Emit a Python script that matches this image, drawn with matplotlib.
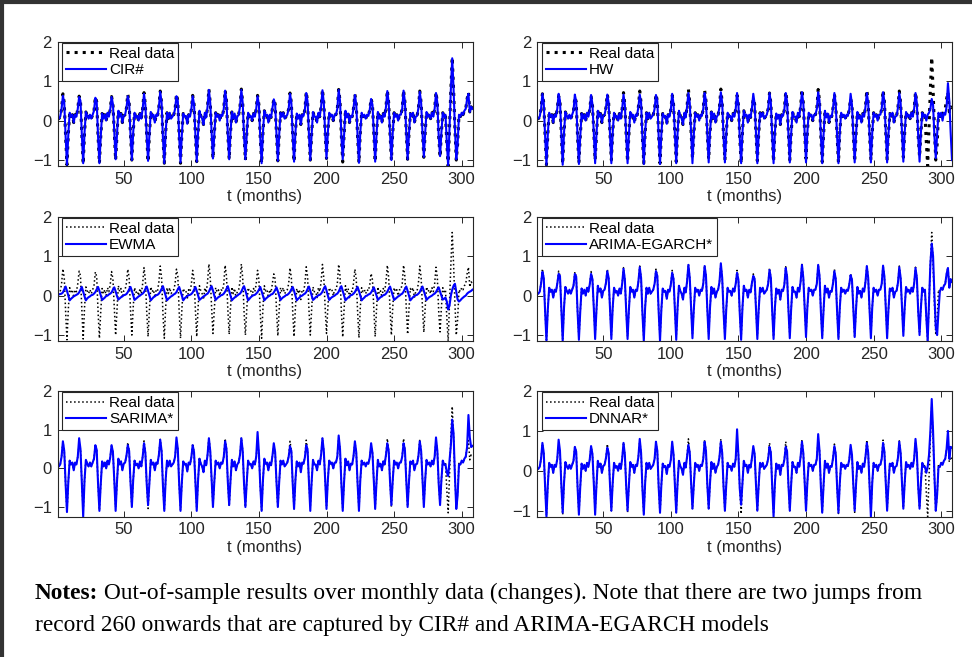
import numpy as np
import matplotlib
matplotlib.use("Agg")
import matplotlib.pyplot as plt
from matplotlib.lines import Line2D

plt.rcParams['font.family'] = ['Liberation Sans', 'DejaVu Sans']

# ---- real data (monthly changes) ----
# t = 1..4, then one row per year starting at the yearly peak (t = 5 + 12k), then t = 305..308
real_head = [0.05, 0.05, 0.10, 0.30]
real_rows = [
    [0.68, 0.45, -0.40, -1.12, -0.35, 0.20, 0.10, 0.15, -0.05, 0.15, 0.10, 0.30],
    [0.62, 0.50, -0.35, -1.10, -0.30, 0.22, 0.12, 0.05, 0.15, 0.05, 0.15, 0.25],
    [0.60, 0.48, -0.40, -1.08, -0.40, 0.18, 0.05, 0.15, 0.00, 0.20, 0.10, 0.28],
    [0.61, 0.42, -0.30, -1.00, -0.35, 0.25, 0.10, 0.18, -0.05, 0.12, 0.15, 0.32],
    [0.67, 0.45, -0.35, -1.00, -0.30, 0.20, 0.08, 0.12, 0.00, 0.18, 0.05, 0.30],
    [0.71, 0.40, -0.40, -1.04, -0.35, 0.22, 0.10, 0.15, -0.05, 0.15, 0.12, 0.35],
    [0.75, 0.45, -0.45, -1.08, -0.30, 0.20, 0.05, 0.20, 0.05, 0.10, 0.15, 0.30],
    [0.67, 0.50, -0.40, -1.08, -0.35, 0.18, 0.10, 0.12, -0.08, 0.15, 0.10, 0.28],
    [0.64, 0.42, -0.35, -1.04, -0.30, 0.25, 0.12, 0.05, -0.10, 0.20, 0.08, 0.35],
    [0.80, 0.45, -0.30, -0.96, -0.35, 0.20, 0.10, 0.15, 0.00, 0.15, 0.12, 0.30],
    [0.77, 0.50, -0.35, -0.98, -0.30, 0.22, 0.05, 0.18, -0.05, 0.10, 0.15, 0.35],
    [0.80, 0.45, -0.40, -1.00, -0.35, 0.20, 0.10, 0.12, 0.00, 0.18, 0.10, 0.30],
    [0.64, 0.40, -0.45, -1.08, -0.30, 0.25, 0.12, 0.15, -0.05, 0.15, 0.08, 0.32],
    [0.55, 0.42, -0.35, -1.02, -0.35, 0.20, 0.10, 0.20, 0.05, 0.10, 0.15, 0.30],
    [0.70, 0.45, -0.40, -1.04, -0.30, 0.18, 0.05, 0.15, -0.10, 0.15, 0.12, 0.28],
    [0.73, 0.48, -0.35, -1.00, -0.35, 0.22, 0.10, 0.10, -0.05, 0.20, 0.10, 0.35],
    [0.79, 0.45, -0.30, -0.96, -0.30, 0.20, 0.12, 0.15, 0.00, 0.15, 0.15, 0.30],
    [0.79, 0.50, -0.40, -1.05, -0.35, 0.25, 0.08, 0.18, -0.05, 0.12, 0.10, 0.32],
    [0.67, 0.42, -0.40, -1.07, -0.30, 0.20, 0.10, 0.15, 0.05, 0.15, 0.12, 0.28],
    [0.56, 0.40, -0.35, -1.04, -0.35, 0.22, 0.05, 0.12, -0.05, 0.18, 0.10, 0.35],
    [0.77, 0.45, -0.35, -1.00, -0.30, 0.20, 0.10, 0.15, 0.00, 0.15, 0.15, 0.30],
    [0.77, 0.48, -0.30, -0.98, -0.35, 0.18, 0.12, 0.20, -0.05, 0.10, 0.12, 0.32],
    [0.75, 0.45, -0.30, -0.93, -0.30, 0.22, 0.10, 0.15, 0.05, 0.20, 0.10, 0.30],
    [0.72, 0.45, -0.40, -0.92, -0.30, 0.20, 0.10, 0.15, -0.55, -1.15, -0.20, 0.80],
    [1.60, 0.80, -0.20, -1.00, -0.60, 0.15, 0.10, 0.20, 0.15, 0.25, 0.30, 0.55],
]
real_tail = [0.72, 0.22, 0.35, 0.30]

# ---- model forecasts: yearly peak / trough values ----
cir_peak = [0.63, 0.60, 0.58, 0.60, 0.62, 0.68, 0.73, 0.62, 0.62, 0.78, 0.76, 0.78, 0.62,
            0.54, 0.68, 0.70, 0.77, 0.78, 0.65, 0.55, 0.75, 0.76, 0.73, 0.70, 1.58, 0.68]
cir_trough = [-1.12, -1.08, -1.08, -0.98, -1.00, -1.02, -1.08, -1.06, -1.04, -0.96, -0.98, -0.98,
              -1.08, -1.02, -1.04, -1.00, -0.96, -0.98, -1.07, -1.04, -1.00, -0.98, -0.92, -0.90]
cir_end = {290: -1.15, 293: 1.58, 296: -0.98}

hw_peak = [0.68, 0.68, 0.66, 0.65, 0.66, 0.66, 0.66, 0.65, 0.68, 0.70, 0.70, 0.72, 0.70,
           0.68, 0.70, 0.70, 0.72, 0.72, 0.70, 0.68, 0.70, 0.72, 0.70, 0.70, 0.55, 0.95]
hw_trough = [-1.12, -1.12, -1.10, -1.08, -1.08, -1.08, -1.10, -1.10, -1.08, -1.08, -1.06, -1.06,
             -1.08, -1.08, -1.08, -1.06, -1.06, -1.08, -1.08, -1.06, -1.06, -1.06, -1.04, -1.04]
hw_end = {289: 0.00, 290: 0.15, 291: 0.20, 292: 0.30, 293: 0.55, 294: 0.40, 295: -0.40,
          296: -0.95, 297: -0.35, 298: 0.20, 299: 0.10, 300: 0.20, 301: 0.00, 302: 0.20,
          303: 0.15, 304: 0.35, 305: 0.95, 306: 0.50, 307: -0.30, 308: -1.00}

arima_peak = [0.60, 0.55, 0.55, 0.55, 0.62, 0.68, 0.72, 0.62, 0.58, 0.78, 0.75, 0.82, 0.58,
              0.50, 0.65, 0.70, 0.78, 0.78, 0.62, 0.52, 0.75, 0.76, 0.72, 0.70, 1.32, 0.70]
arima_trough = [-1.15, -1.15, -1.12, -1.10, -1.10, -1.10, -1.15, -1.15, -1.12, -1.08, -1.10, -1.10,
                -1.12, -1.10, -1.10, -1.08, -1.05, -1.08, -1.10, -1.05, -1.08, -1.08, -1.02, -1.00]
arima_end = {293: 1.32, 294: 1.00, 295: 0.00, 296: -0.80, 297: -1.00, 298: -0.40,
             305: 0.70, 306: 0.20, 307: 0.42, 308: 0.35}

sarima_peak = [0.70, 0.78, 0.60, 0.60, 0.60, 0.65, 0.74, 0.80, 0.60, 0.78, 0.70, 0.78, 0.94,
               0.65, 0.57, 0.60, 0.78, 0.85, 0.70, 0.65, 0.65, 0.65, 0.70, 0.80, 1.26, 1.38]
sarima_trough = [-1.13, -1.25, -1.10, -1.10, -1.00, -0.95, -1.10, -1.10, -1.10, -1.00, -0.95, -1.00,
                 -1.10, -1.00, -1.05, -1.10, -1.05, -1.10, -1.10, -1.05, -0.95, -1.00, -1.00, -0.95]
sarima_end = {288: 0.10, 289: -0.10, 290: -0.20, 291: 0.20, 292: 0.60, 294: 0.90, 295: -0.20,
              296: -1.05, 297: -0.70, 298: 0.10, 306: 0.80, 307: 0.55, 308: 0.58}

dnnar_peak = [0.70, 0.78, 0.60, 0.62, 0.58, 0.70, 0.80, 0.73, 0.73, 0.65, 0.73, 0.73, 1.04,
              0.62, 0.60, 0.60, 0.73, 0.92, 0.62, 0.65, 0.70, 0.70, 0.73, 0.80, 1.80, 1.00]
dnnar_trough = [-1.15, -1.05, -1.10, -1.10, -1.00, -1.00, -1.10, -1.05, -1.05, -0.95, -0.95, -1.00,
                -0.85, -1.00, -1.15, -1.00, -1.00, -1.05, -1.05, -1.00, -1.15, -1.00, -0.95, -0.95]
dnnar_end = {288: 0.10, 289: -0.05, 290: 0.10, 291: 0.40, 292: 1.00, 294: 1.00, 295: -0.10,
             296: -1.00, 297: -0.60, 298: 0.10, 306: 0.30, 307: 0.60, 308: 0.58}

# EWMA: small, lagged seasonal swing
ewma_head = [0.03, 0.03, 0.04, 0.05]
ewma_rows = [
    [0.08, 0.16, 0.23, 0.12, 0.00, -0.12, -0.08, -0.05, -0.02, 0.00, 0.02, 0.04],
    [0.08, 0.15, 0.22, 0.10, -0.02, -0.12, -0.07, -0.04, -0.02, 0.01, 0.02, 0.05],
    [0.09, 0.16, 0.22, 0.12, 0.00, -0.11, -0.08, -0.05, -0.01, 0.00, 0.03, 0.05],
    [0.08, 0.15, 0.21, 0.11, -0.01, -0.10, -0.07, -0.04, -0.02, 0.01, 0.02, 0.04],
    [0.09, 0.16, 0.22, 0.12, 0.00, -0.11, -0.08, -0.05, -0.02, 0.00, 0.03, 0.05],
    [0.09, 0.17, 0.23, 0.12, 0.00, -0.12, -0.08, -0.04, -0.02, 0.01, 0.02, 0.05],
    [0.10, 0.17, 0.24, 0.12, -0.01, -0.12, -0.08, -0.05, -0.02, 0.00, 0.03, 0.05],
    [0.09, 0.16, 0.22, 0.11, 0.00, -0.12, -0.07, -0.04, -0.01, 0.01, 0.02, 0.04],
    [0.08, 0.15, 0.22, 0.12, 0.00, -0.11, -0.08, -0.05, -0.02, 0.00, 0.03, 0.05],
    [0.10, 0.18, 0.24, 0.13, 0.00, -0.11, -0.07, -0.04, -0.02, 0.01, 0.02, 0.05],
    [0.10, 0.17, 0.24, 0.12, 0.00, -0.12, -0.08, -0.05, -0.02, 0.00, 0.03, 0.05],
    [0.10, 0.18, 0.24, 0.13, 0.00, -0.12, -0.08, -0.04, -0.01, 0.01, 0.02, 0.05],
    [0.09, 0.15, 0.22, 0.11, -0.01, -0.12, -0.08, -0.05, -0.02, 0.00, 0.03, 0.04],
    [0.08, 0.14, 0.21, 0.11, 0.00, -0.11, -0.07, -0.04, -0.02, 0.01, 0.02, 0.05],
    [0.09, 0.16, 0.22, 0.12, 0.00, -0.12, -0.08, -0.05, -0.01, 0.00, 0.03, 0.05],
    [0.09, 0.17, 0.23, 0.12, 0.00, -0.11, -0.08, -0.04, -0.02, 0.01, 0.02, 0.05],
    [0.10, 0.18, 0.24, 0.13, 0.00, -0.11, -0.07, -0.04, -0.02, 0.00, 0.03, 0.05],
    [0.10, 0.18, 0.24, 0.12, -0.01, -0.12, -0.08, -0.05, -0.02, 0.01, 0.02, 0.05],
    [0.09, 0.16, 0.22, 0.12, 0.00, -0.12, -0.08, -0.05, -0.01, 0.00, 0.03, 0.04],
    [0.08, 0.14, 0.21, 0.11, 0.00, -0.11, -0.07, -0.04, -0.02, 0.01, 0.02, 0.05],
    [0.10, 0.17, 0.23, 0.12, 0.00, -0.11, -0.08, -0.05, -0.02, 0.00, 0.03, 0.05],
    [0.10, 0.17, 0.23, 0.12, 0.00, -0.12, -0.08, -0.04, -0.01, 0.01, 0.02, 0.05],
    [0.09, 0.17, 0.23, 0.12, 0.00, -0.11, -0.07, -0.04, -0.02, 0.00, 0.03, 0.05],
    [0.09, 0.16, 0.21, 0.10, 0.00, -0.10, -0.08, -0.05, -0.15, -0.35, -0.25, 0.00],
    [0.15, 0.25, 0.30, 0.10, -0.10, -0.15, -0.12, -0.08, -0.05, -0.02, 0.00, 0.05],
]
ewma_tail = [0.08, 0.10, 0.12, 0.15]

xticks = [50, 100, 150, 200, 250, 300]
yticks = [-1, 0, 1, 2]


def flat(head, rows, tail):
    out = list(head)
    for r in rows:
        out += r
    return np.array(out + list(tail))


real = flat(real_head, real_rows, real_tail)
t = np.arange(1, len(real) + 1)


def model(peaks, troughs, end):
    y = real.copy()
    for k, v in enumerate(peaks):
        y[4 + 12 * k] = v
    for k, v in enumerate(troughs):
        y[7 + 12 * k] = v
    for tt, v in end.items():
        y[tt - 1] = v
    return y


cir = model(cir_peak, cir_trough, cir_end)
hw = model(hw_peak, hw_trough, hw_end)
arima = model(arima_peak, arima_trough, arima_end)
sarima = model(sarima_peak, sarima_trough, sarima_end)
dnnar = model(dnnar_peak, dnnar_trough, dnnar_end)
ewma = flat(ewma_head, ewma_rows, ewma_tail)

fig = plt.figure(figsize=(9.72, 6.57), dpi=100)

W, H = 972.0, 657.0
cols = [57.5, 537.0]
aw = 415.0
rows_px = [(41.7, 166.0), (216.7, 341.0), (391.0, 516.7)]

panels = [
    (0, 0, cir, 'CIR#', 2.2, -1.15),
    (0, 1, hw, 'HW', 2.2, -1.15),
    (1, 0, ewma, 'EWMA', 1.1, -1.15),
    (1, 1, arima, 'ARIMA-EGARCH*', 1.1, -1.15),
    (2, 0, sarima, 'SARIMA*', 1.1, -1.25),
    (2, 1, dnnar, 'DNNAR*', 1.1, -1.15),
]

edge = '#262626'
for r, c, y, name, dlw, ybot in panels:
    top, bot = rows_px[r]
    ax = fig.add_axes([cols[c] / W, 1 - bot / H, aw / W, (bot - top) / H])
    ax.plot(t, real, ':', color='black', lw=dlw, label='Real data')
    ax.plot(t, y, '-', color='blue', lw=1.5, label=name)
    ax.set_xlim(1, 308)
    ax.set_ylim(ybot, 2)
    ax.set_xticks(xticks)
    ax.set_yticks(yticks)
    ax.tick_params(direction='in', top=True, right=True, length=4, width=0.7,
                   color=edge, labelsize=12, labelcolor='#262626', pad=4)
    for s in ax.spines.values():
        s.set_color(edge)
        s.set_linewidth(0.8)
    ax.set_xlabel('t (months)', fontsize=12, color='#262626', labelpad=2)
    leg = ax.legend(loc='upper left', bbox_to_anchor=(0.012, 0.99), borderaxespad=0,
                    fontsize=11, fancybox=False, framealpha=1, edgecolor='#262626',
                    handlelength=2.6, handletextpad=0.2, borderpad=0.25, labelspacing=0.15)
    leg.get_frame().set_linewidth(0.8)

# notes under the panels
serif = ['Liberation Serif', 'DejaVu Serif']
n1 = fig.text(35 / W, 1 - 599 / H, 'Notes:', fontsize=16.8, fontweight='bold',
              family=serif, va='baseline')
fig.axes[0].annotate(' Out-of-sample results over monthly data (changes). Note that there are two jumps from',
                     xy=(1, 0), xycoords=n1, va='bottom', ha='left', fontsize=16.8,
                     family=serif, annotation_clip=False)
fig.text(35 / W, 1 - 631 / H, 'record 260 onwards that are captured by CIR# and ARIMA-EGARCH models',
         fontsize=16.8, family=serif, va='baseline')

# frame lines of the figure box
fig.add_artist(Line2D([0, 1], [0.997, 0.997], transform=fig.transFigure, color='#333333', lw=3))
fig.add_artist(Line2D([0.002, 0.002], [0, 1], transform=fig.transFigure, color='#333333', lw=3))

fig.savefig('out.png', dpi=100)
